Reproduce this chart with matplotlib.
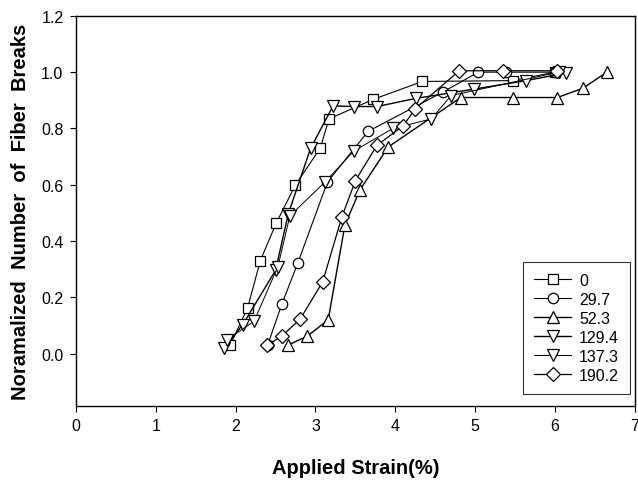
import matplotlib
matplotlib.use("Agg")
import matplotlib.pyplot as plt

plt.rcParams['font.family'] = ['Liberation Sans', 'DejaVu Sans']

labels = ['0', '29.7', '52.3', '129.4', '137.3', '190.2']
markers = ['s', 'o', '^', 'v', 'v', 'D']

x_0 = [1.93, 2.15, 2.31, 2.51, 2.75, 3.06, 3.17, 3.72, 4.34, 5.47, 6.00]
y_0 = [0.03, 0.163, 0.331, 0.465, 0.60, 0.73, 0.834, 0.903, 0.967, 0.97, 1.00]

x_297 = [2.40, 2.58, 2.78, 3.15, 3.66, 4.60, 5.04, 5.39, 6.00]
y_297 = [0.03, 0.177, 0.323, 0.61, 0.79, 0.93, 1.00, 1.00, 1.00]

x_523 = [2.65, 2.90, 3.16, 3.37, 3.56, 3.91, 4.82, 5.48, 6.03, 6.35, 6.65]
y_523 = [0.03, 0.063, 0.121, 0.459, 0.583, 0.734, 0.91, 0.91, 0.91, 0.943, 1.00]

x_1294 = [1.86, 2.09, 2.50, 2.66, 2.94, 3.22, 3.48, 3.77, 4.26, 4.99, 5.64, 6.14]
y_1294 = [0.021, 0.104, 0.296, 0.497, 0.73, 0.88, 0.878, 0.878, 0.907, 0.94, 0.97, 0.997]

x_1373 = [1.89, 2.23, 2.53, 2.68, 3.12, 3.48, 3.97, 4.45, 4.70, 6.05]
y_1373 = [0.05, 0.115, 0.31, 0.49, 0.61, 0.72, 0.80, 0.834, 0.917, 1.00]

x_1902 = [2.39, 2.58, 2.81, 3.09, 3.33, 3.50, 3.77, 4.10, 4.25, 4.80, 5.35, 6.02]
y_1902 = [0.03, 0.063, 0.124, 0.255, 0.485, 0.615, 0.74, 0.81, 0.87, 1.005, 1.005, 1.005]

xs = [x_0, x_297, x_523, x_1294, x_1373, x_1902]
ys = [y_0, y_297, y_523, y_1294, y_1373, y_1902]
widths = [0.8, 0.8, 1.0, 1.0, 0.7, 0.9]
sizes = [7.5, 7.5, 8, 8, 8, 7]

fig = plt.figure(figsize=(6.38, 4.81), dpi=100)
fig.patch.set_facecolor('w')
ax = fig.add_axes([0.119, 0.154, 0.876, 0.811])

for x, y, lab, m, lw, ms in zip(xs, ys, labels, markers, widths, sizes):
    ax.plot(x, y, color='black', linewidth=lw, marker=m, markersize=ms,
            markerfacecolor='white', markeredgecolor='black',
            markeredgewidth=0.9, label=lab)

ax.set_xlim(0, 7)
ax.set_ylim(-0.185, 1.2)
ax.set_xticks(range(0, 8))
ax.set_yticks([0.0, 0.2, 0.4, 0.6, 0.8, 1.0, 1.2])
ax.set_yticklabels(['0.0', '0.2', '0.4', '0.6', '0.8', '1.0', '1.2'])
ax.tick_params(axis='both', direction='out', length=4, width=0.8,
               labelsize=11.5, pad=5)
for s in ax.spines.values():
    s.set_linewidth(1.0)

ax.set_xlabel('Applied Strain(%)', fontsize=14.5, fontweight='bold', labelpad=18)
ax.set_ylabel('Noramalized  Number  of  Fiber  Breaks', fontsize=14.5,
              fontweight='bold', labelpad=8)

leg = ax.legend(loc='lower right', bbox_to_anchor=(0.992, 0.03),
                fontsize=11.5, frameon=True, fancybox=False, shadow=False,
                handlelength=2.3, handletextpad=0.5, labelspacing=0.25,
                borderpad=0.7, borderaxespad=0.0)
leg.get_frame().set_edgecolor('black')
leg.get_frame().set_linewidth(0.8)

plt.savefig('out.png', dpi=100)
